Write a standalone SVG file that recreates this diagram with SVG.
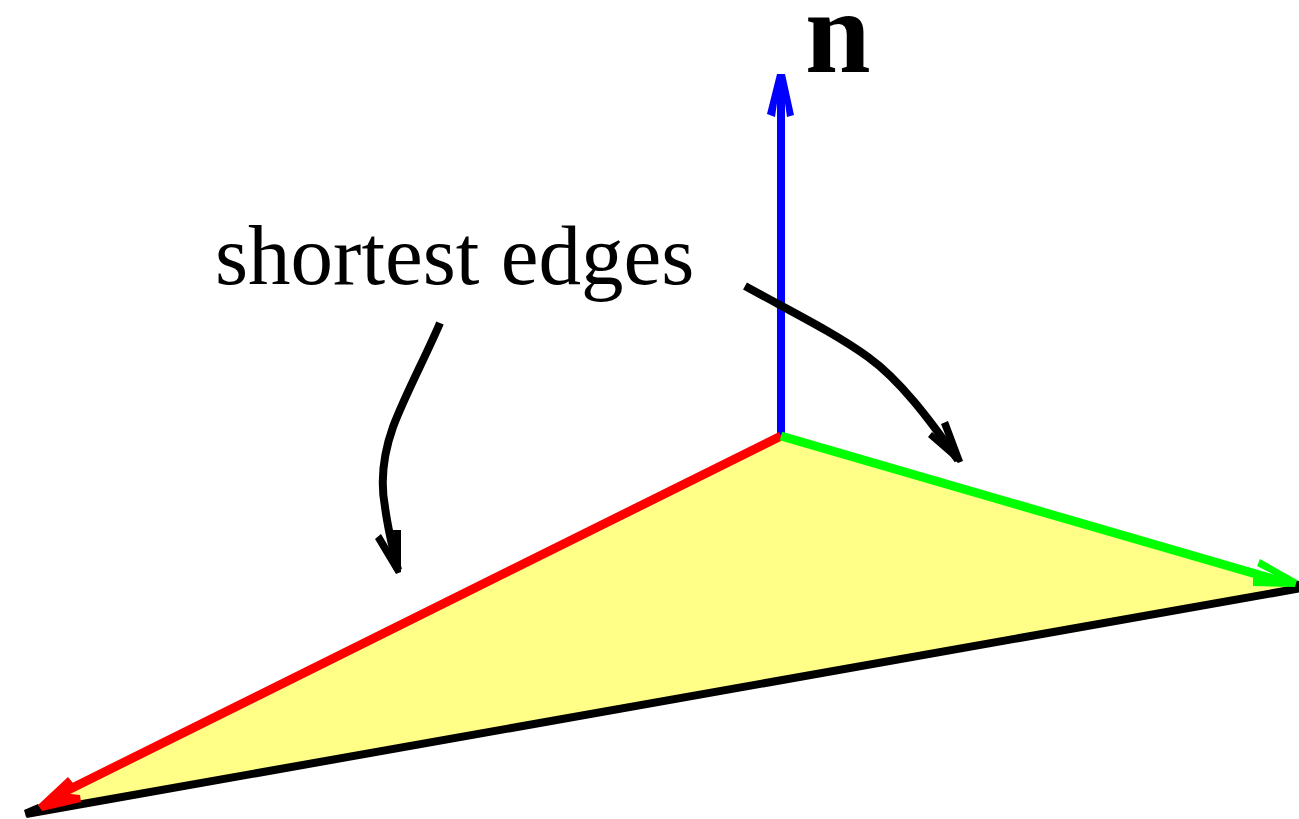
<svg xmlns="http://www.w3.org/2000/svg" width="1299" height="819" viewBox="0 0 1299 819">
<style>
.l{fill:none;stroke-width:8;stroke-linecap:butt;stroke-linejoin:round}
.e{stroke-width:9}
text{font-family:"Liberation Serif","Times New Roman",serif;fill:#000}
</style>
<rect width="1299" height="819" fill="#fff"/>
<g id="triangle"><path d="M781 436L1296 587L26 813Z" fill="#ffff88"/></g>
<g id="connectors">
<path class="l" d="M1299 588.500L26 814" stroke="#000" stroke-linecap="round"/>
<path d="M1299 581L1290 579L1292 590L1299 590Z" fill="#000"/>
<path d="M24 810L38 804L44 812L26 817Z" fill="#000"/>
<path class="l" d="M781 436V90" stroke="#0000ff"/>
<path class="l e" d="M781 436L52 798" stroke="#ff0000"/>
<path class="l e" d="M781 436L1280 581" stroke="#00ff00"/>
<path d="M777 74H785L794 115L787 117L785 103H777L775 117L767 114Z" fill="#0000ff"/>
<path d="M38 805L68 777L73 783L62 793L80 795L81 802L42 811Z" fill="#ff0000"/>
<path d="M1297 580L1260 559L1257 566L1280 578L1253 578V586L1295 587Z" fill="#00ff00"/>
<path class="l" d="M745 286C790 311 835 333 868 357C900 380 930 420 958 460" stroke="#000"/>
<path d="M963 461L948 421L941 424L950 447L932 432L928 437L958 463Z" fill="#000"/>
<path class="l" d="M440 323C425 358 405 395 393 427C383 455 380 480 385 507C388 530 393 550 398 570" stroke="#000"/>
<path d="M401 572L401 530L393 530L394 556L381 534L375 539L396 574Z" fill="#000"/>
</g>
<g id="labels">
<text x="215" y="284" font-size="85">shortest edges</text>
<text x="805" y="72" font-size="118" font-weight="bold">n</text>
</g>
</svg>
